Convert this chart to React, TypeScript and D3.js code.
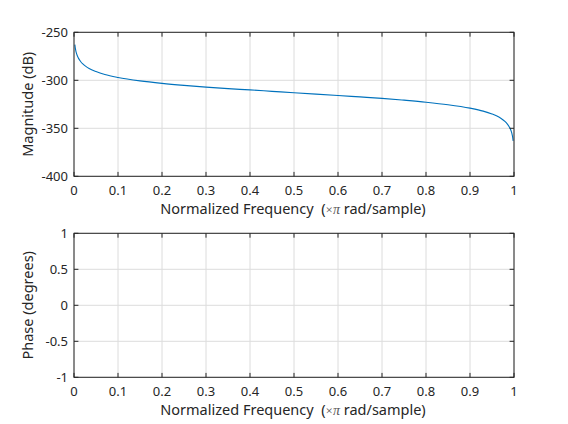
import React from "react";
import * as d3 from "d3";

const freqs = [0.002, 0.003, 0.004, 0.006, 0.008, 0.01, 0.015, 0.02, 0.03, 0.04, 0.05, 0.07, 0.1, 0.15, 0.2, 0.25, 0.3, 0.35, 0.4, 0.45, 0.5, 0.55, 0.6, 0.65, 0.7, 0.75, 0.8, 0.85, 0.9, 0.93, 0.95, 0.96, 0.97, 0.98, 0.985, 0.99, 0.992, 0.994, 0.996, 0.997, 0.998];
const magnitudes = [-262.9, -266.5, -269.0, -272.5, -275.0, -276.9, -280.4, -283.0, -286.5, -289.0, -290.9, -293.9, -297.0, -300.6, -303.2, -305.3, -307.1, -308.7, -310.0, -311.5, -313.0, -314.4, -315.8, -317.3, -318.8, -320.7, -322.8, -325.4, -329.0, -332.1, -335.1, -337.0, -339.5, -343.0, -345.6, -349.1, -351.0, -353.5, -357.0, -359.5, -363.1];
const xTicks = [0, 0.1, 0.2, 0.3, 0.4, 0.5, 0.6, 0.7, 0.8, 0.9, 1];
const magTicks = [-400, -350, -300, -250];
const phaseTicks = [-1, -0.5, 0, 0.5, 1];

const FONT = "'Noto Sans', sans-serif";
const AX = "#262626";
const GRID = "#dcdcdc";
const TICK_FS = 13;
const LABEL_FS = 14.5;

const X0 = 74, X1 = 514;

function Axes({ top, bottom, yDomain, yTicks, ylabel, children }: any) {
  const x = d3.scaleLinear().domain([0, 1]).range([X0, X1]);
  const y = d3.scaleLinear().domain(yDomain).range([bottom, top]);
  const tl = 4.4;
  return (
    <g>
      {xTicks.map((t) => (
        <line key={"gx" + t} x1={x(t)} x2={x(t)} y1={top} y2={bottom} stroke={GRID} strokeWidth={1} />
      ))}
      {yTicks.map((t: number) => (
        <line key={"gy" + t} x1={X0} x2={X1} y1={y(t)} y2={y(t)} stroke={GRID} strokeWidth={1} />
      ))}
      {children && children(x, y)}
      <rect x={X0} y={top} width={X1 - X0} height={bottom - top} fill="none" stroke={AX} strokeWidth={1} />
      {xTicks.map((t) => (
        <g key={"tx" + t}>
          <line x1={x(t)} x2={x(t)} y1={bottom} y2={bottom - tl} stroke={AX} />
          <line x1={x(t)} x2={x(t)} y1={top} y2={top + tl} stroke={AX} />
          <text x={x(t)} y={bottom + 19} textAnchor="middle" fontSize={TICK_FS} fontFamily={FONT} fill={AX}>
            {String(t)}
          </text>
        </g>
      ))}
      {yTicks.map((t: number) => (
        <g key={"ty" + t}>
          <line x1={X0} x2={X0 + tl} y1={y(t)} y2={y(t)} stroke={AX} />
          <line x1={X1} x2={X1 - tl} y1={y(t)} y2={y(t)} stroke={AX} />
          <text x={X0 - 6} y={y(t)} dy="0.36em" textAnchor="end" fontSize={TICK_FS} fontFamily={FONT} fill={AX}>
            {String(t)}
          </text>
        </g>
      ))}
      <text x={(X0 + X1) / 2 - 1} y={bottom + 38} textAnchor="middle" fontSize={LABEL_FS} fontFamily={FONT} fill={AX}>
        Normalized Frequency {"\u00a0"}(
        <tspan fontFamily="'Liberation Serif', 'DejaVu Serif', serif" fill="#555" fontSize={13}>×</tspan>
        <tspan fontFamily="'Liberation Serif', 'DejaVu Serif', serif" fontStyle="italic" fill="#555" fontSize={14}>π</tspan> rad/sample)
      </text>
      <text
        transform={`translate(${X0 - 41},${(top + bottom) / 2}) rotate(-90)`}
        textAnchor="middle"
        fontSize={LABEL_FS}
        fontFamily={FONT}
        fill={AX}
      >
        {ylabel}
      </text>
    </g>
  );
}

export default function App() {
  const data = freqs.map((f, i) => [f, magnitudes[i]] as [number, number]);
  return (
    <svg width={568} height={424} style={{ position: "absolute", left: 0, top: 0, background: "#fff" }}>
      <rect width={568} height={424} fill="#fff" />
      <Axes top={32.3} bottom={176.3} yDomain={[-400, -250]} yTicks={magTicks} ylabel="Magnitude (dB)">
        {(x: any, y: any) => {
          const line = d3.line<[number, number]>().x((d) => x(d[0])).y((d) => y(d[1])).curve(d3.curveMonotoneX);
          return <path d={line(data) || ""} fill="none" stroke="#0072BD" strokeWidth={1.1} />;
        }}
      </Axes>
      <Axes top={233.3} bottom={377.3} yDomain={[-1, 1]} yTicks={phaseTicks} ylabel="Phase (degrees)" />
    </svg>
  );
}
